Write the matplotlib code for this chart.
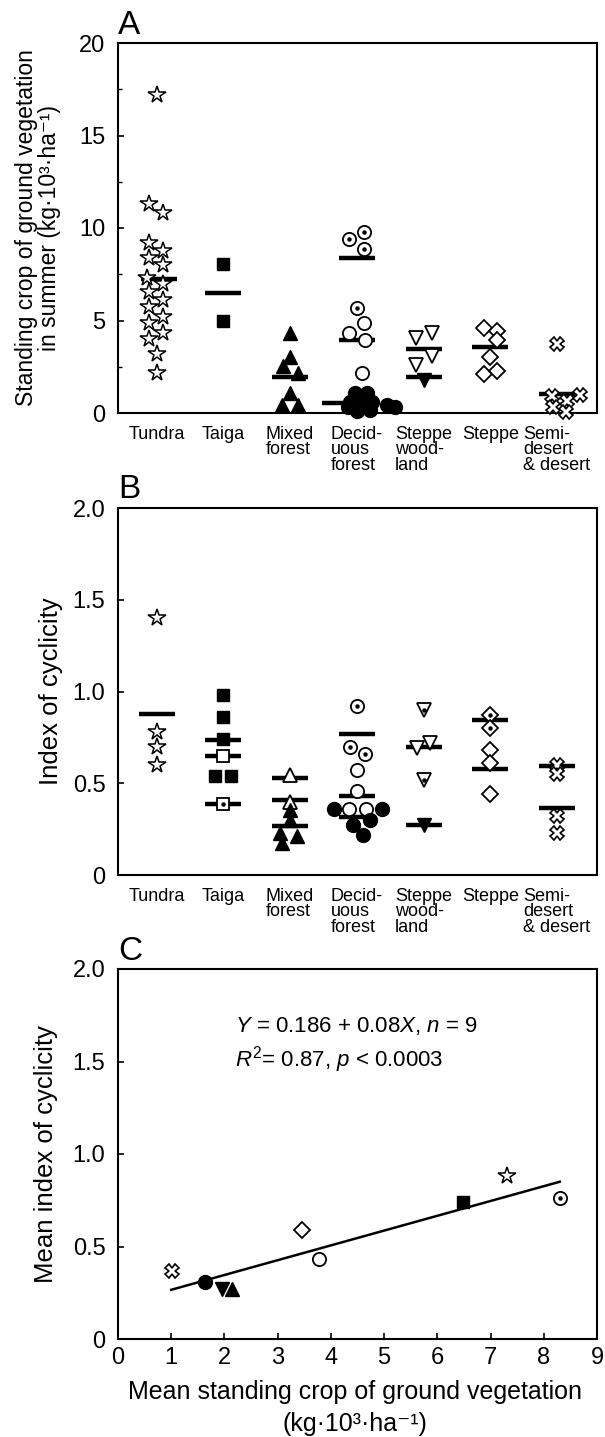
import numpy as np
import matplotlib
matplotlib.use('Agg')
import matplotlib.pyplot as plt
from matplotlib.ticker import MultipleLocator

plt.rcParams['font.family'] = ['Liberation Sans', 'DejaVu Sans']
plt.rcParams['mathtext.fontset'] = 'custom'
plt.rcParams['mathtext.rm'] = 'Liberation Sans'
plt.rcParams['mathtext.it'] = 'Liberation Sans:italic'

CATEGORIES = ['Tundra', 'Taiga', 'Mixed\nforest', 'Decid-\nuous\nforest',
              'Steppe\nwood-\nland', 'Steppe', 'Semi-\ndesert\n& desert']

# ---- Panel A: standing crop (kg 10^3 / ha) ----
a_tundra = [17.2, 11.3, 10.8, 9.2, 8.75, 8.4, 7.98, 7.29, 6.96, 6.52, 6.11,
            5.71, 5.18, 4.86, 4.32, 4.02, 3.21, 2.14]
a_tundra_dx = [0.0, -0.12, 0.1, -0.12, 0.1, -0.12, 0.1, -0.14, 0.1, -0.12,
               0.1, -0.12, 0.1, -0.12, 0.1, -0.12, 0.0, 0.0]
a_taiga_filled = [8.03, 4.96]
a_mixed_filled = [4.32, 3.05, 2.55, 2.18, 1.07, 0.43, 0.43]
a_mixed_filled_dx = [0.0, 0.0, -0.1, 0.12, 0.0, -0.12, 0.12]
a_decid_dotted = [9.79, 9.38, 8.84, 5.69]
a_decid_dotted_dx = [0.1, -0.12, 0.1, 0.0]
a_decid_open = [4.87, 4.33, 3.97, 2.17]
a_decid_open_dx = [0.1, -0.12, 0.12, 0.08]
a_decid_filled = [1.1, 1.1, 0.6, 0.6, 0.6, 0.45, 0.35, 0.1, 0.3, 0.15]
a_decid_filled_dx = [-0.03, 0.15, -0.1, 0.07, 0.22, 0.45, 0.57, 0.0, -0.13,
                     0.2]
a_sw_open = [4.05, 4.3, 3.1, 2.6]
a_sw_open_dx = [-0.12, 0.12, 0.12, -0.12]
a_sw_filled = [1.8]
a_steppe_open = [4.6, 4.45, 3.95, 3.05, 2.1, 2.25]
a_steppe_open_dx = [-0.1, 0.1, 0.1, 0.0, -0.1, 0.1]
a_semi = [3.75, 0.9, 0.65, 1.0, 0.32, 0.08]
a_semi_dx = [0.0, -0.08, 0.15, 0.35, -0.06, 0.14]
# group means: category, value, x offset
a_bar_cat = [1, 2, 3, 4, 4, 4, 5, 5, 6, 7]
a_bar_val = [7.23, 6.5, 1.97, 8.38, 3.94, 0.55, 3.45, 1.92, 3.55, 1.05]
a_bar_dx = [0.03, 0.0, 0.0, 0.0, 0.0, -0.25, 0.0, 0.0, 0.0, 0.0]

# ---- Panel B: index of cyclicity ----
b_tundra = [1.40, 0.78, 0.70, 0.60]
b_taiga_filled = [0.98, 0.86, 0.74, 0.54, 0.54]
b_taiga_filled_dx = [0.0, 0.0, 0.0, -0.12, 0.12]
b_taiga_open = [0.65]
b_taiga_dotted = [0.385]
b_mixed_open = [0.545, 0.40]
b_mixed_filled = [0.355, 0.30, 0.227, 0.21, 0.173]
b_mixed_filled_dx = [0.0, 0.0, -0.15, 0.1, -0.12]
b_decid_dotted = [0.92, 0.70, 0.66]
b_decid_dotted_dx = [0.0, -0.1, 0.12]
b_decid_open = [0.57, 0.46, 0.36, 0.36]
b_decid_open_dx = [0.0, 0.0, -0.12, 0.13]
b_decid_filled = [0.36, 0.36, 0.30, 0.27, 0.22]
b_decid_filled_dx = [-0.34, 0.38, 0.2, -0.06, 0.09]
b_sw_dotted = [0.90, 0.52]
b_sw_open = [0.69, 0.72]
b_sw_open_dx = [-0.1, 0.1]
b_sw_filled = [0.27]
b_steppe_dotted = [0.87, 0.80]
b_steppe_open = [0.68, 0.61, 0.44]
b_semi = [0.60, 0.55, 0.32, 0.23]
b_bar_cat = [1, 2, 2, 2, 3, 3, 3, 4, 4, 4, 5, 5, 6, 6, 7, 7]
b_bar_val = [0.88, 0.735, 0.65, 0.385, 0.527, 0.41, 0.267, 0.767, 0.43, 0.318,
             0.70, 0.275, 0.845, 0.58, 0.596, 0.364]

# ---- Panel C: means ----
c_x = [1.01, 1.63, 1.95, 2.15, 3.45, 3.77, 6.49, 7.30, 8.30]
c_y = [0.37, 0.31, 0.27, 0.27, 0.59, 0.43, 0.74, 0.88, 0.76]
c_kind = ['cross', 'filled_circle', 'filled_vtri', 'filled_tri', 'diamond',
          'open_circle', 'filled_square', 'star', 'dotted_circle']
FIT_INTERCEPT = 0.186
FIT_SLOPE = 0.08
FIT_RANGE = [1.0, 8.3]

STYLES = {
    'star': dict(marker='*', mfc='white', ms=13, mew=1.1),
    'filled_square': dict(marker='s', mfc='k', ms=9),
    'open_square': dict(marker='s', mfc='white', ms=9, mew=1.3),
    'dotted_square': dict(marker='s', mfc='white', ms=9, mew=1.3),
    'filled_tri': dict(marker='^', mfc='k', ms=10),
    'open_tri': dict(marker='^', mfc='white', ms=10, mew=1.3),
    'filled_vtri': dict(marker='v', mfc='k', ms=10),
    'open_vtri': dict(marker='v', mfc='white', ms=10, mew=1.3),
    'dotted_vtri': dict(marker='v', mfc='white', ms=10, mew=1.3),
    'filled_circle': dict(marker='o', mfc='k', ms=10),
    'open_circle': dict(marker='o', mfc='white', ms=9.5, mew=1.3),
    'dotted_circle': dict(marker='o', mfc='white', ms=9.5, mew=1.3),
    'diamond': dict(marker='D', mfc='white', ms=8, mew=1.3),
    'dotted_diamond': dict(marker='D', mfc='white', ms=8, mew=1.3),
    'cross': dict(marker='X', mfc='white', ms=10, mew=1.2),
}


def draw(ax, x, y, kind):
    ax.plot(x, y, linestyle='', mec='k', zorder=3, clip_on=False,
            **STYLES[kind])
    if kind.startswith('dotted'):
        ax.plot(x, y, linestyle='', marker='o', ms=2.2, color='k', zorder=4,
                clip_on=False)


def group(ax, cat, values, kind, dx=None):
    values = np.asarray(values)
    if dx is None:
        dx = np.zeros(len(values))
    draw(ax, cat + np.asarray(dx), values, kind)


def bars(ax, cats, vals, dxs=None, hw=0.27):
    cats = np.asarray(cats, dtype=float)
    if dxs is not None:
        cats = cats + np.asarray(dxs)
    ax.hlines(vals, cats - hw, cats + hw, color='k', lw=3.2, zorder=2)


def style_cat_axis(ax):
    ax.set_xlim(0.42, 7.6)
    ax.set_xticks(np.arange(1, 8))
    ax.set_xticklabels(CATEGORIES, fontsize=13, linespacing=0.9)
    for t in ax.get_xticklabels():
        t.set_multialignment('left')
    ax.tick_params(axis='x', length=0, pad=9)
    ax.tick_params(axis='y', direction='in', length=4, width=1.2,
                   labelsize=17, pad=9)
    ax.tick_params(axis='y', which='minor', direction='in', length=3,
                   width=1.0)
    for s in ax.spines.values():
        s.set_linewidth(1.5)


fig = plt.figure(figsize=(6.05, 14.37), dpi=100)
L, W = 118/605, 479/605

# FIGURE A
axA = fig.add_axes([L, 1 - 413/1437, W, 370/1437])
group(axA, 1, a_tundra, 'star', a_tundra_dx)
group(axA, 2, a_taiga_filled, 'filled_square')
group(axA, 3, a_mixed_filled, 'filled_tri', a_mixed_filled_dx)
group(axA, 4, a_decid_dotted, 'dotted_circle', a_decid_dotted_dx)
group(axA, 4, a_decid_open, 'open_circle', a_decid_open_dx)
group(axA, 4, a_decid_filled, 'filled_circle', a_decid_filled_dx)
group(axA, 5, a_sw_open, 'open_vtri', a_sw_open_dx)
group(axA, 5, a_sw_filled, 'filled_vtri')
group(axA, 6, a_steppe_open, 'diamond', a_steppe_open_dx)
group(axA, 7, a_semi, 'cross', a_semi_dx)
bars(axA, a_bar_cat, a_bar_val, a_bar_dx)
axA.set_ylim(0, 20)
axA.set_yticks([0, 5, 10, 15, 20])
axA.yaxis.set_minor_locator(MultipleLocator(2.5))
style_cat_axis(axA)
axA.set_ylabel('Standing crop of ground vegetation\n'
               'in summer (kg·10³·ha⁻¹)', fontsize=16.5, linespacing=1.0)
axA.yaxis.set_label_coords(-0.12, 0.5)
fig.text(L, 1 - 34/1437, 'A', fontsize=24, ha='left', va='baseline')

# FIGURE B
axB = fig.add_axes([L, 1 - 875/1437, W, 367/1437])
group(axB, 1, b_tundra, 'star')
group(axB, 2, b_taiga_filled, 'filled_square', b_taiga_filled_dx)
group(axB, 2, b_taiga_open, 'open_square')
group(axB, 2, b_taiga_dotted, 'dotted_square')
group(axB, 3, b_mixed_open, 'open_tri')
group(axB, 3, b_mixed_filled, 'filled_tri', b_mixed_filled_dx)
group(axB, 4, b_decid_dotted, 'dotted_circle', b_decid_dotted_dx)
group(axB, 4, b_decid_open, 'open_circle', b_decid_open_dx)
group(axB, 4, b_decid_filled, 'filled_circle', b_decid_filled_dx)
group(axB, 5, b_sw_dotted, 'dotted_vtri')
group(axB, 5, b_sw_open, 'open_vtri', b_sw_open_dx)
group(axB, 5, b_sw_filled, 'filled_vtri')
group(axB, 6, b_steppe_dotted, 'dotted_diamond')
group(axB, 6, b_steppe_open, 'diamond')
group(axB, 7, b_semi, 'cross')
bars(axB, b_bar_cat, b_bar_val)
axB.set_ylim(0, 2.0)
axB.set_yticks([0, 0.5, 1.0, 1.5, 2.0])
axB.set_yticklabels(['0', '0.5', '1.0', '1.5', '2.0'])
style_cat_axis(axB)
axB.set_ylabel('Index of cyclicity', fontsize=18.5)
axB.yaxis.set_label_coords(-0.115, 0.5)
fig.text(L, 1 - 498/1437, 'B', fontsize=24, ha='left', va='baseline')

# FIGURE C
axC = fig.add_axes([L, 1 - 1339/1437, W, 370/1437])
xs = np.array(FIT_RANGE)
axC.plot(xs, FIT_INTERCEPT + FIT_SLOPE*xs, color='k', lw=1.8, zorder=2)
for x, y, kind in zip(c_x, c_y, c_kind):
    draw(axC, [x], [y], kind)
axC.set_xlim(0, 9)
axC.set_ylim(0, 2.0)
axC.set_xticks(np.arange(0, 10))
axC.set_yticks([0, 0.5, 1.0, 1.5, 2.0])
axC.set_yticklabels(['0', '0.5', '1.0', '1.5', '2.0'])
axC.tick_params(direction='in', length=4, width=1.2, labelsize=17)
axC.tick_params(axis='y', pad=9)
axC.tick_params(axis='x', pad=6)
for s in axC.spines.values():
    s.set_linewidth(1.5)
axC.text(2.2, 1.69, r'$Y$ = 0.186 + 0.08$X$, $n$ = 9', fontsize=16,
         va='center')
axC.text(2.2, 1.51, r'$R^2$= 0.87, $p$ < 0.0003', fontsize=16, va='center')
axC.set_ylabel('Mean index of cyclicity', fontsize=18.5)
axC.yaxis.set_label_coords(-0.125, 0.5)
axC.set_xlabel('Mean standing crop of ground vegetation\n(kg·10³·ha⁻¹)',
               fontsize=18, linespacing=1.45)
axC.xaxis.set_label_coords(0.495, -0.11)
fig.text(L, 1 - 960/1437, 'C', fontsize=24, ha='left', va='baseline')

fig.savefig('out.png', dpi=100)
